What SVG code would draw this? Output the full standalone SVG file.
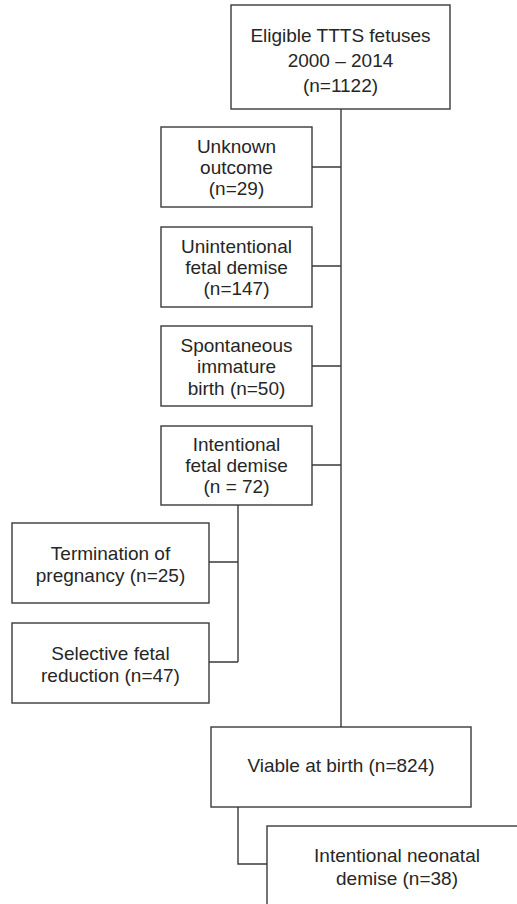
<svg xmlns="http://www.w3.org/2000/svg" width="517" height="904" viewBox="0 0 517 904">
<style>
.box{fill:#ffffff;stroke:#3a3a3a;stroke-width:1.4}
.t{font-family:"Liberation Sans",Arial,sans-serif;font-size:19px;fill:#262626;text-anchor:middle}
.c{fill:none;stroke:#3a3a3a;stroke-width:1.4}
</style>
<rect width="517" height="904" fill="#ffffff"/>
<g id="connectors">
<path class="c" d="M341,109 V727"/>
<path class="c" d="M312,167 H341 M312,266 H341 M312,366 H341 M312,465 H341"/>
<path class="c" d="M238,505 V662 M209,562 H238 M209,662 H238"/>
<path class="c" d="M238,807 V864 H267"/>
</g>
<g id="eligible">
<rect class="box" x="231" y="5" width="219" height="104"/>
<text class="t" x="340.5" y="42">Eligible TTTS fetuses</text>
<text class="t" x="340.5" y="67">2000 – 2014</text>
<text class="t" x="340.5" y="92">(n=1122)</text>
</g>
<g id="unknown">
<rect class="box" x="161" y="127" width="151" height="80"/>
<text class="t" x="236.5" y="153">Unknown</text>
<text class="t" x="236.5" y="174">outcome</text>
<text class="t" x="236.5" y="195">(n=29)</text>
</g>
<g id="unintentional">
<rect class="box" x="161" y="227" width="151" height="80"/>
<text class="t" x="236.5" y="253">Unintentional</text>
<text class="t" x="236.5" y="274">fetal demise</text>
<text class="t" x="236.5" y="295">(n=147)</text>
</g>
<g id="spontaneous">
<rect class="box" x="161" y="326" width="151" height="80"/>
<text class="t" x="236.5" y="352">Spontaneous</text>
<text class="t" x="236.5" y="373">immature</text>
<text class="t" x="236.5" y="395">birth (n=50)</text>
</g>
<g id="intentional">
<rect class="box" x="161" y="426" width="151" height="79"/>
<text class="t" x="236.5" y="451">Intentional</text>
<text class="t" x="236.5" y="472">fetal demise</text>
<text class="t" x="236.5" y="493">(n = 72)</text>
</g>
<g id="termination">
<rect class="box" x="12" y="523" width="197" height="80"/>
<text class="t" x="110.5" y="560">Termination of</text>
<text class="t" x="110.5" y="582">pregnancy (n=25)</text>
</g>
<g id="selective">
<rect class="box" x="12" y="623" width="197" height="80"/>
<text class="t" x="110.5" y="660">Selective fetal</text>
<text class="t" x="110.5" y="682">reduction (n=47)</text>
</g>
<g id="viable">
<rect class="box" x="211" y="727" width="260" height="80"/>
<text class="t" x="341" y="772">Viable at birth (n=824)</text>
</g>
<g id="neonatal">
<rect class="box" x="267" y="826" width="300" height="120"/>
<text class="t" x="397" y="862">Intentional neonatal</text>
<text class="t" x="397" y="885">demise (n=38)</text>
</g>
</svg>
